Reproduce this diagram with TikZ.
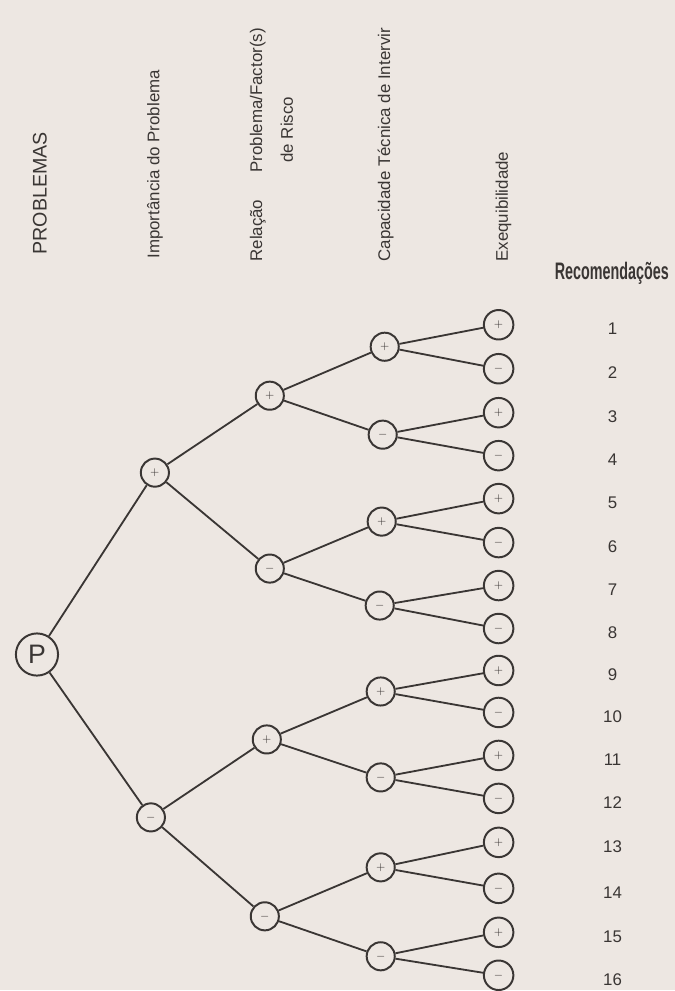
\documentclass[tikz,border=0pt]{standalone}
\usepackage{fontspec}
\setmainfont{Liberation Sans}
\definecolor{ink}{RGB}{58,54,52}
\definecolor{paper}{RGB}{237,231,226}

\begin{document}
\begin{tikzpicture}[x=0.025cm,y=-0.025cm,
	sign/.style={circle,draw=ink,line width=1.4pt,inner sep=0pt,minimum size=20pt,text=ink,font=\fontsize{8}{8}\selectfont},
	leaf/.style={sign,minimum size=21pt},
	head/.style={rotate=90,anchor=west,inner sep=0pt,text=ink,font=\fontsize{12}{14}\selectfont},
	branch/.style={draw=ink,line width=1.3pt}]
	\fill[paper] (0,0) rectangle (675,991);
	% column headings
	\node[head,font=\fontsize{14}{16}\selectfont] (hprob) at(40,255) {PROBLEMAS};
	\node[head] (himp) at(155,259) {Importância do Problema};
	\node[head] (hrel) at(258,262) {Relação};
	\node[head] (hfac) at(258,173) {Problema/Factor(s)};
	\node[head] (hris) at(287,163) {de Risco};
	\node[head] (hcap) at(386,262) {Capacidade Técnica de Intervir};
	\node[head] (hexe) at(504,262) {Exequibilidade};
	\node[anchor=base west,inner sep=0pt,text=ink,font=\bfseries\fontsize{17}{20}\selectfont] (hrec) at(555,280) {\scalebox{0.6}[1]{Recomendações}};
	% tree
	\node[sign,minimum size=30pt,font=\fontsize{19}{19}\selectfont] (p) at(37,655) {P};
	\node[sign] (a1) at(155,473) {$+$};
	\node[sign] (a2) at(151,818) {$-$};
	\foreach \x/\y/\s [count=\i] in {270/396/+,270/569/-,267/740/+,265/917/-}
		\node[sign] (b\i) at(\x,\y) {$\s$};
	\foreach \x/\y/\s [count=\i] in {385/347/+,383/435/-,382/522/+,380/606/-,381/692/+,381/778/-,381/868/+,381/957/-}
		\node[sign] (c\i) at(\x,\y) {$\s$};
	\foreach \y/\s [count=\i] in {325/+,369/-,413/+,456/-,499/+,543/-,586/+,629/-,671/+,713/-,756/+,799/-,843/+,889/-,933/+,976/-}{
		\node[leaf] (d\i) at(499,\y) {$\s$};
		\node[text=ink,font=\fontsize{12}{14}\selectfont] (n\i) at(613,\y+4) {\i};
	}
	% branches
	\draw[branch] (p)--(a1) (p)--(a2);
	\foreach \i in {1,...,4}{
		\pgfmathtruncatemacro\k{(\i+1)/2}
		\draw[branch] (a\k)--(b\i);
	}
	\foreach \i in {1,...,8}{
		\pgfmathtruncatemacro\k{(\i+1)/2}
		\draw[branch] (b\k)--(c\i);
	}
	\foreach \i in {1,...,16}{
		\pgfmathtruncatemacro\k{(\i+1)/2}
		\draw[branch] (c\k)--(d\i);
	}
\end{tikzpicture}
\end{document}
